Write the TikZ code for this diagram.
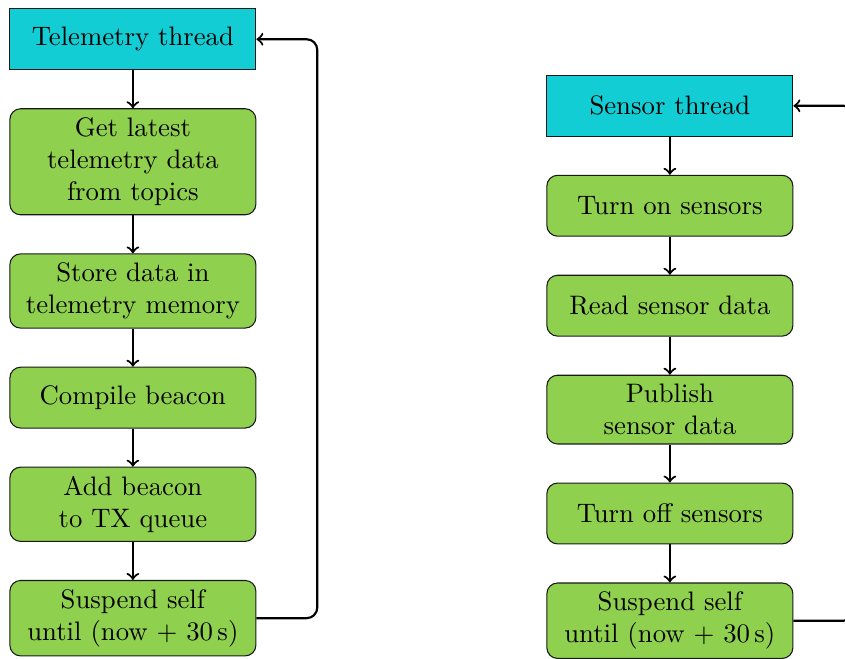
\documentclass[tikz,border=0pt]{standalone}
\usepackage{tikz}
\usetikzlibrary{arrows,shapes,positioning}
\definecolor{threadcyan}{RGB}{18,205,212}
\definecolor{taskgreen}{RGB}{143,209,79}

\begin{document}
\begin{tikzpicture}[node distance=0.5cm]
                    \tikzstyle{thread}=[rectangle, draw=black!90, fill=threadcyan, text width=3cm, align=center, minimum height=0.8cm]
                    \tikzstyle{task}=[rectangle, rounded corners, draw=black!90, fill=taskgreen, text width=3cm, align=center, minimum height=0.8cm]
                    \tikzstyle{flow}=[->, thick]
                    % telemetry thread
                    \node [thread] (tel) at (0,0) {Telemetry thread};
                    \useasboundingbox ([xshift=-3.5pt,yshift=3.1pt]tel.north west) rectangle ++(316.1pt,-246.5pt);
                    \node [task, below=of tel] (getdata) {Get latest\\ telemetry data\\ from topics};
                    \node [task, below=of getdata] (store) {Store data in\\ telemetry memory};
                    \node [task, below=of store] (compile) {Compile beacon};
                    \node [task, below=of compile] (addtx) {Add beacon\\ to TX queue};
                    \node [task, below=of addtx] (suspa) {Suspend self\\ until (now $+$ 30\,s)};
                    \draw [flow] (tel) -- (getdata);
                    \draw [flow] (getdata) -- (store);
                    \draw [flow] (store) -- (compile);
                    \draw [flow] (compile) -- (addtx);
                    \draw [flow] (addtx) -- (suspa);
                    \draw [flow, rounded corners] (suspa.east) -- ++(0.8,0) |- (tel.east);
                    % sensor thread
                    \node [thread] (sens) at (7.06,-0.875) {Sensor thread};
                    \node [task, below=of sens] (sonon) {Turn on sensors};
                    \node [task, below=of sonon] (readsens) {Read sensor data};
                    \node [task, below=of readsens] (pubsens) {Publish\\ sensor data};
                    \node [task, below=of pubsens] (sonoff) {Turn off sensors};
                    \node [task, below=of sonoff] (suspb) {Suspend self\\ until (now $+$ 30\,s)};
                    \draw [flow] (sens) -- (sonon);
                    \draw [flow] (sonon) -- (readsens);
                    \draw [flow] (readsens) -- (pubsens);
                    \draw [flow] (pubsens) -- (sonoff);
                    \draw [flow] (sonoff) -- (suspb);
                    \draw [flow, rounded corners] (suspb.east) -- ++(0.8,0) |- (sens.east);
                \end{tikzpicture}
\end{document}
